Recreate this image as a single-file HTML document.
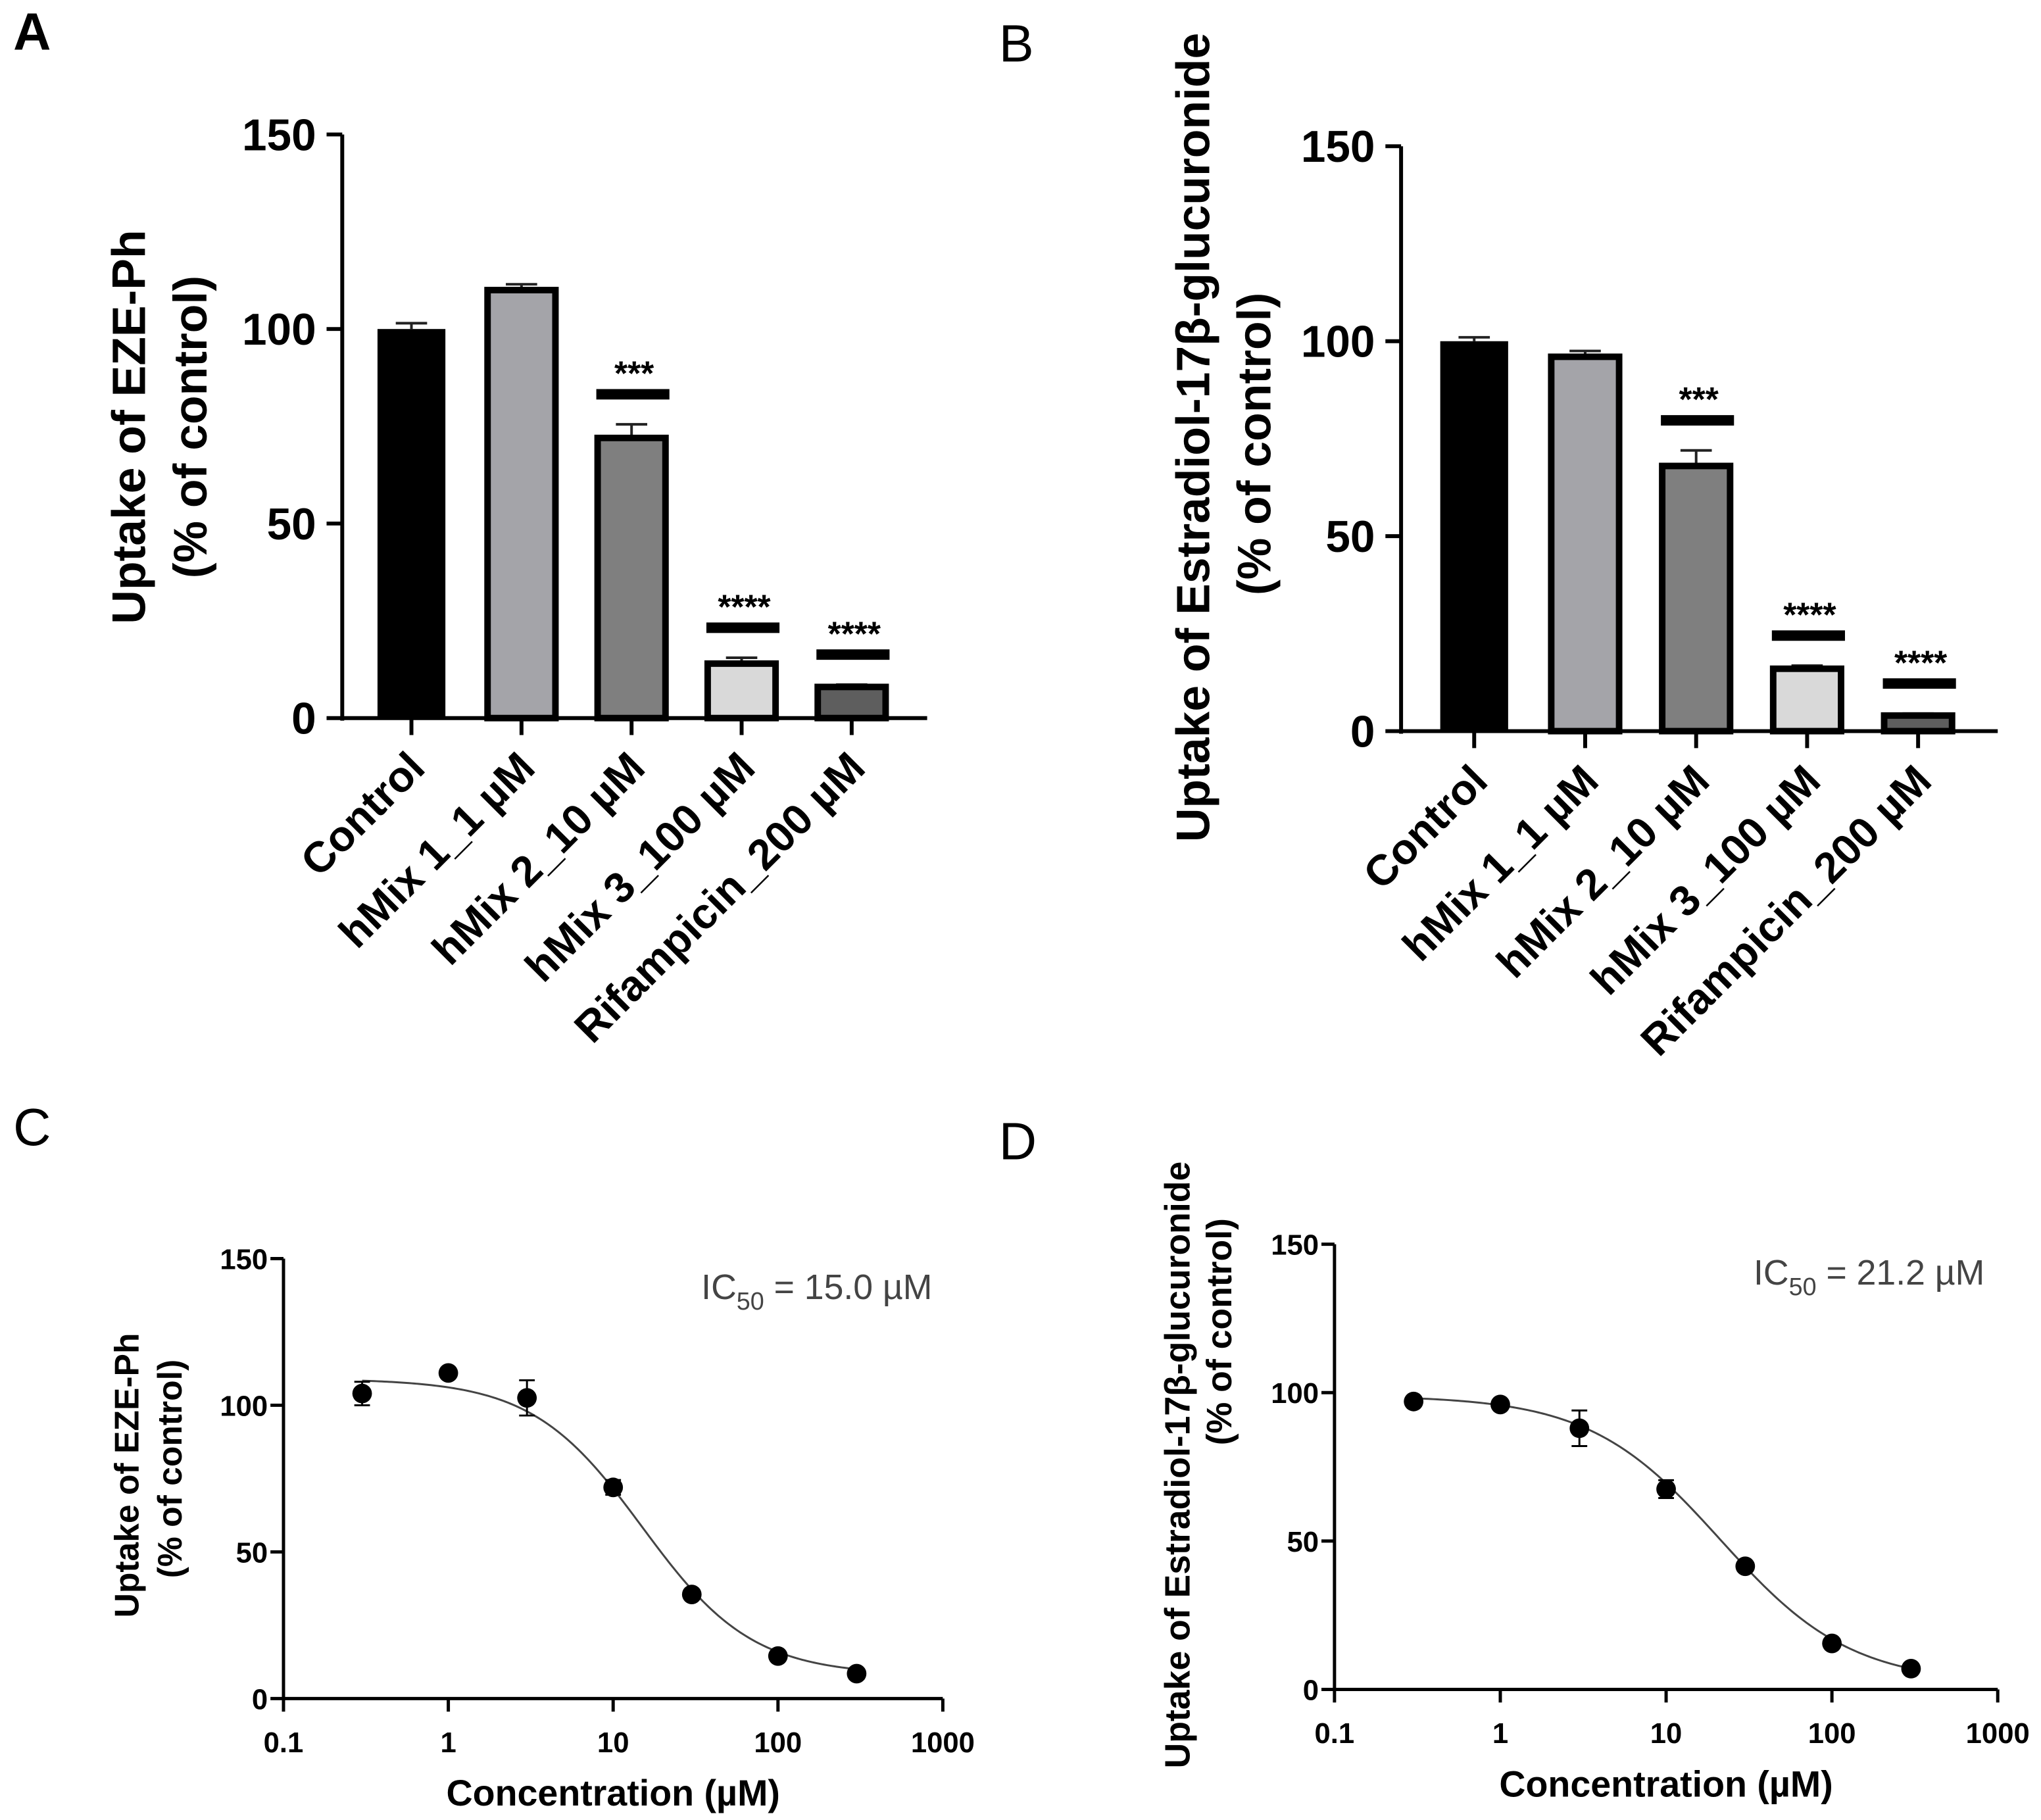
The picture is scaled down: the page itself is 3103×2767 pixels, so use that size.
<!DOCTYPE html>
<html><head><meta charset="utf-8"><style>
html,body{margin:0;padding:0;background:#fff}
svg{display:block}
text{font-family:"Liberation Sans",sans-serif}
</style></head><body>
<svg id="fig" width="3103" height="2767" viewBox="0 0 1563 1394" xmlns="http://www.w3.org/2000/svg"></svg>
<script>
// Panel A data
const catsA = ["Control","hMix 1_1 µM","hMix 2_10 µM","hMix 3_100 µM","Rifampicin_200 µM"];
const valsA = [100,110,72,14,8];
const errA = [1.5,1.5,3.5,1.5,0.6];
const sigA = ["","","***","****","****"];
// Panel B data
const valsB = [100,96,68,16,4];
const errB = [1,1.5,4,0.8,0.5];
const sigB = ["","","***","****","****"];
const barTicks = [0,50,100,150];
// Panel C data
const concC = [0.3,1,3,10,30,100,300];
const respC = [104,111,102.5,72,35.5,14.5,8.5];
const semC = [4,1,6,2.5,1,1,0.5];
// Panel D data
const concD = [0.3,1,3,10,30,100,300];
const respD = [97,96,88,67.5,41.5,15.5,7];
const semD = [1,1,6,3,1,1,0.5];
const xTicks = [0.1,1,10,100,1000];
const xTickLabels = ["0.1","1","10","100","1000"];
const fitC = {top:109,bottom:8,ic50:15.0,hill:1.3};
const fitD = {top:99,bottom:2,ic50:21.2,hill:1.1};

const NS="http://www.w3.org/2000/svg";
const svg=document.getElementById('fig');
function el(tag,attrs,parent,txt){const e=document.createElementNS(NS,tag);for(const k in attrs)e.setAttribute(k,attrs[k]);if(txt!==undefined)e.textContent=txt;(parent||svg).appendChild(e);return e;}
const barColors=["#000","#a4a4a9","#7f7f7f","#d9d9d9","#5e5e5e"];

function barPanel(cfg){
  const g=el('g',{});
  
  
  const y=v=>cfg.y0-(v/150)*(cfg.y0-cfg.y150);
  const ax=el('line',{x1:cfg.ax,y1:cfg.y150,x2:cfg.ax,y2:cfg.y0+2,stroke:'#000','stroke-width':3},g);
  
  const xa=el('line',{x1:cfg.ax-1,y1:cfg.y0,x2:cfg.xend,y2:cfg.y0,stroke:'#000','stroke-width':3},g);
  
  barTicks.forEach(t=>{
    el('line',{x1:cfg.ax-12,y1:y(t),x2:cfg.ax,y2:y(t),stroke:'#000','stroke-width':3},g);
    const tl=el('text',{x:cfg.ax-20,y:y(t)+12,'text-anchor':'end','font-size':34,'font-weight':'bold'},g,String(t));
    
  });
  cfg.vals.forEach((v,i)=>{
    const cx=cfg.c0+i*cfg.step, w=52;
    el('line',{x1:cx,y1:y(v),x2:cx,y2:y(v+cfg.err[i]),stroke:'#222','stroke-width':2},g);
    el('line',{x1:cx-12,y1:y(v+cfg.err[i]),x2:cx+12,y2:y(v+cfg.err[i]),stroke:'#222','stroke-width':2},g);
    const r=el('rect',{x:cx-w/2,y:y(v),width:w,height:cfg.y0-y(v),fill:barColors[i],stroke:'#000','stroke-width':i==0?0:5},g);
    
    el('line',{x1:cx,y1:cfg.y0,x2:cx,y2:cfg.y0+13,stroke:'#000','stroke-width':3},g);
    const lx=cx+12, ly=cfg.y0+40;
    const lab=el('text',{x:lx,y:ly,'text-anchor':'end','font-size':33,'font-weight':'bold',transform:`rotate(-45 ${lx} ${ly})`},g,catsA[i]);
    
    if(cfg.sig[i]){
      const ly2=y(v+cfg.err[i])-23;
      el('line',{x1:cx-27,y1:ly2,x2:cx+29,y2:ly2,stroke:'#000','stroke-width':8},g);
      const s=el('text',{x:cx+2,y:ly2-7,'text-anchor':'middle','font-size':26,'font-weight':'bold'},g,cfg.sig[i]);
      
    }
  });
  const t1=el('text',{x:0,y:0,'text-anchor':'middle','font-size':36,'font-weight':'bold',transform:`translate(${cfg.tx1} ${cfg.ty}) rotate(-90)`},g,cfg.title);
  
  const t2=el('text',{x:0,y:0,'text-anchor':'middle','font-size':36,'font-weight':'bold',transform:`translate(${cfg.tx2} ${cfg.ty2||cfg.ty}) rotate(-90)`},g,'(% of control)');
  
}
barPanel({name:'panel-a-bar-chart',ax:262,y0:550,y150:103,xend:710,c0:315,step:84.3,vals:valsA,err:errA,sig:sigA,title:'Uptake of EZE-Ph',tx1:111,tx2:158,ty:327});
barPanel({name:'panel-b-bar-chart',ax:1073,y0:560,y150:112,xend:1530,c0:1129,step:85,vals:valsB,err:errB,sig:sigB,title:'Uptake of Estradiol-17β-glucuronide',tx1:926,tx2:973,ty:335,ty2:340});

function curvePanel(cfg){
  const g=el('g',{});
  
  
  const x=c=>cfg.ax+(Math.log10(c)+1)*(cfg.xend-cfg.ax)/4;
  const y=v=>cfg.y0-(v/150)*(cfg.y0-cfg.y150);
  const ya=el('line',{x1:cfg.ax,y1:cfg.y150,x2:cfg.ax,y2:cfg.y0+1,stroke:'#000','stroke-width':2.5},g);
  
  const xa=el('line',{x1:cfg.ax,y1:cfg.y0,x2:cfg.xend,y2:cfg.y0,stroke:'#000','stroke-width':2.5},g);
  
  barTicks.forEach(t=>{
    el('line',{x1:cfg.ax-10,y1:y(t),x2:cfg.ax,y2:y(t),stroke:'#000','stroke-width':2.5},g);
    const tl=el('text',{x:cfg.ax-12,y:y(t)+8,'text-anchor':'end','font-size':22,'font-weight':'bold'},g,String(t));
    
  });
  xTicks.forEach((t,i)=>{
    el('line',{x1:x(t),y1:cfg.y0,x2:x(t),y2:cfg.y0+10,stroke:'#000','stroke-width':2.5},g);
    const tl=el('text',{x:x(t),y:cfg.y0+41,'text-anchor':'middle','font-size':22,'font-weight':'bold'},g,xTickLabels[i]);
    
  });
  const f=cfg.fit;let d='';
  for(let k=0;k<=200;k++){const lc=Math.log10(0.3)+k*(Math.log10(300)-Math.log10(0.3))/200;const c=Math.pow(10,lc);
    const v=f.bottom+(f.top-f.bottom)/(1+Math.pow(c/f.ic50,f.hill));d+=(k?'L':'M')+x(c).toFixed(2)+' '+y(v).toFixed(2);}
  const p=el('path',{d:d,fill:'none',stroke:'#444','stroke-width':1.5},g);
  
  cfg.conc.forEach((c,i)=>{
    const v=cfg.resp[i],e=cfg.sem[i];
    el('line',{x1:x(c),y1:y(v-e),x2:x(c),y2:y(v+e),stroke:'#000','stroke-width':1.5},g);
    el('line',{x1:x(c)-6,y1:y(v-e),x2:x(c)+6,y2:y(v-e),stroke:'#000','stroke-width':1.5},g);
    el('line',{x1:x(c)-6,y1:y(v+e),x2:x(c)+6,y2:y(v+e),stroke:'#000','stroke-width':1.5},g);
    const pt=el('circle',{cx:x(c),cy:y(v),r:7.5,fill:'#000'},g);
    
  });
  const xt=el('text',{x:(cfg.ax+cfg.xend)/2,y:cfg.y0+82,'text-anchor':'middle','font-size':28,'font-weight':'bold'},g,'Concentration (µM)');
  
  const t1=el('text',{x:0,y:0,'text-anchor':'middle','font-size':cfg.tfs,'font-weight':'bold',transform:`translate(${cfg.tx1} ${cfg.ty}) rotate(-90)`},g,cfg.title);
  
  const t2=el('text',{x:0,y:0,'text-anchor':'middle','font-size':cfg.tfs,'font-weight':'bold',transform:`translate(${cfg.tx2} ${cfg.ty2}) rotate(-90)`},g,'(% of control)');
  
  const ic=el('text',{x:cfg.icx,y:cfg.icy,'font-size':27,fill:'#444'},g);
  
  el('tspan',{},ic,'IC');el('tspan',{'font-size':19,dy:8},ic,'50');el('tspan',{dy:-8},ic,' = '+cfg.ic);
}
curvePanel({name:'panel-c-dose-response',ax:217,xend:722,y0:1301,y150:964,conc:concC,resp:respC,sem:semC,fit:fitC,title:'Uptake of EZE-Ph',tfs:26,tx1:106,tx2:139,ty:1130,ty2:1125,icx:537,icy:995,ic:'15.0 µM'});
curvePanel({name:'panel-d-dose-response',ax:1022,xend:1530,y0:1294,y150:953,conc:concD,resp:respD,sem:semD,fit:fitD,title:'Uptake of Estradiol-17β-glucuronide',tfs:27,tx1:911,tx2:943,ty:1122,ty2:1020,icx:1343,icy:984,ic:'21.2 µM'});

[['A',10,38,'bold'],['B',765,47,'normal'],['C',10,877,'normal'],['D',765,888,'normal']].forEach(([t,x,y,w])=>{
  const l=el('text',{x:x,y:y,'font-size':40,'font-weight':w},svg,t);
  
  
});
</script>
</body></html>
